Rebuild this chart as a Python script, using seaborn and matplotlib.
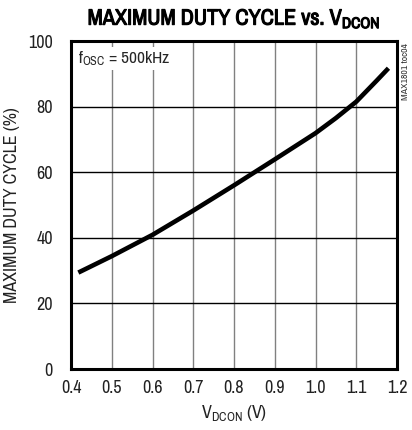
import matplotlib
matplotlib.use("Agg")
import matplotlib.pyplot as plt
import matplotlib.patheffects as pe
import seaborn as sns
import pandas as pd
from matplotlib import font_manager

# data
v_dcon = [0.418, 0.5, 0.6, 0.7, 0.8, 0.9, 0.95, 1.0, 1.05, 1.1, 1.15, 1.179]
duty = [29.4, 34.4, 40.9, 48.3, 56.0, 63.9, 67.9, 71.9, 76.5, 81.5, 87.9, 91.7]

x_ticks = [0.4, 0.5, 0.6, 0.7, 0.8, 0.9, 1.0, 1.1, 1.2]
x_labels = ["0.4", "0.5", "0.6", "0.7", "0.8", "0.9", "1.0", "1.1", "1.2"]
y_ticks = [0, 20, 40, 60, 80, 100]

df = pd.DataFrame({"v": v_dcon, "duty": duty})

sns.set_style("white")
names = sorted({f.name for f in font_manager.fontManager.ttflist})
narrow = [n for n in names if "Narrow" in n or "Condensed" in n]
base = narrow[0] if narrow else "Liberation Sans"
plt.rcParams["font.family"] = [base, "DejaVu Sans"]
plt.rcParams["mathtext.default"] = "regular"

fig = plt.figure(figsize=(4.12, 4.30), dpi=100)
ax = fig.add_axes([71 / 412, 61 / 430, 326 / 412, 328 / 430])

sns.lineplot(data=df, x="v", y="duty", ax=ax, color="black", linewidth=3.3,
             solid_capstyle="butt", zorder=3)

ax.set_xlim(0.4, 1.2)
ax.set_ylim(0, 100)
ax.set_xticks(x_ticks)
ax.set_xticklabels(x_labels)
ax.set_yticks(y_ticks)
for xv in x_ticks[1:-1]:
    ax.axvline(xv, color="#808080", linewidth=1.0, zorder=1)
for yv in y_ticks[1:-1]:
    ax.axhline(yv, color="black", linewidth=1.0, zorder=1)
for s in ax.spines.values():
    s.set_linewidth(2.2)
    s.set_color("black")
ax.tick_params(axis="y", length=0, labelsize=13, pad=13, colors="#222222")
ax.tick_params(axis="x", length=0, labelsize=13, pad=8, colors="#222222")

ax.set_xlabel("V$_{DCON}$ (V)", fontsize=13, labelpad=5, color="#222222")
ax.set_ylabel("MAXIMUM DUTY CYCLE (%)", fontsize=13, labelpad=6, color="#222222")

title = fig.text(234 / 412, 1 - 19 / 430, "MAXIMUM DUTY CYCLE vs. V$_{DCON}$",
                 ha="center", va="center", fontsize=16, fontweight="bold",
                 color="black")
title.set_path_effects([pe.withStroke(linewidth=0.8, foreground="black")])

ax.text(0.022, 0.975, "f$_{OSC}$ = 500kHz", transform=ax.transAxes,
        ha="left", va="top", fontsize=12.5, zorder=4,
        bbox=dict(facecolor="white", edgecolor="none", pad=1.5))

fig.text(405 / 412, 1 - 72 / 430, "MAX1801 toc04", rotation=90,
         ha="center", va="center", fontsize=7, color="#333333")

fig.savefig("out.png", dpi=100)
